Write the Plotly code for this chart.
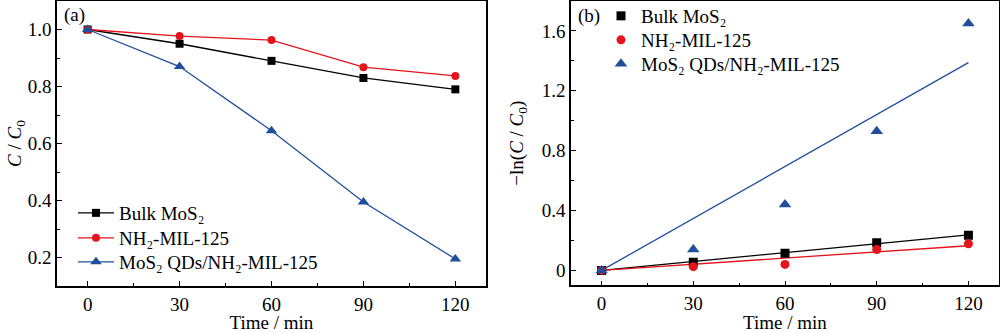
import numpy as np
import plotly.graph_objects as go

# ---- data ----
time_min = [0, 30, 60, 90, 120]
series_names = ["Bulk MoS₂", "NH₂-MIL-125", "MoS₂ QDs/NH₂-MIL-125"]
ratio_bulk = [1.0, 0.95, 0.89, 0.83, 0.79]
ratio_mil = [1.0, 0.977, 0.963, 0.868, 0.837]
ratio_qds = [1.0, 0.87, 0.645, 0.395, 0.195]
lnc_bulk = [0, 0.055, 0.115, 0.185, 0.235]
lnc_mil = [0, 0.025, 0.04, 0.14, 0.178]
lnc_qds = [0, 0.14, 0.44, 0.93, 1.65]
x_ticks = [0, 30, 60, 90, 120]
ya_ticks = [0.2, 0.4, 0.6, 0.8, 1.0]
yb_ticks = [0, 0.4, 0.8, 1.2, 1.6]
yb_ticklabels = ["0", "0.4", "0.8", "1.2", "1.6"]

colors = ["#000000", "#e3141c", "#1f4e9c"]
symbols = ["square", "circle", "triangle-up"]
msizes = [8, 8, 10]
FONT = "Liberation Serif, Times New Roman, serif"
FS = 19

# one legend per entry so the row spacing matches the original
legend_a_ids = ["legend", "legend3", "legend4"]
legend_b_ids = ["legend2", "legend5", "legend6"]
legend_a_rows = [213, 238, 262]   # pixel centres (style)
legend_b_rows = [16, 40, 64]

fig = go.Figure()

# panel (a)
for name, ys, c, s, ms, lg in zip(series_names, [ratio_bulk, ratio_mil, ratio_qds], colors, symbols, msizes, legend_a_ids):
    fig.add_trace(go.Scatter(
        x=time_min, y=ys, mode="lines+markers", name=name,
        line=dict(color=c, width=1.3),
        marker=dict(color=c, symbol=s, size=ms),
        xaxis="x", yaxis="y", legend=lg))

# panel (b): points + linear fit through origin
tx = np.array(time_min, dtype=float)
for name, ys, c in zip(series_names, [lnc_bulk, lnc_mil, lnc_qds], colors):
    yv = np.array(ys, dtype=float)
    k = float(np.sum(tx * yv) / np.sum(tx * tx))
    fig.add_trace(go.Scatter(
        x=[tx[0], tx[-1]], y=[k * tx[0], k * tx[-1]], mode="lines",
        line=dict(color=c, width=1.3), showlegend=False,
        xaxis="x2", yaxis="y2", hoverinfo="skip"))
for name, ys, c, s, ms, lg in zip(series_names, [lnc_bulk, lnc_mil, lnc_qds], colors, symbols, msizes, legend_b_ids):
    fig.add_trace(go.Scatter(
        x=time_min, y=ys, mode="markers", name=name,
        marker=dict(color=c, symbol=s, size=ms + 1),
        xaxis="x2", yaxis="y2", legend=lg))

axis_common = dict(
    showline=True, mirror=True, linecolor="black", linewidth=1.5,
    ticks="inside", ticklen=5, tickwidth=1.2, tickcolor="black",
    showgrid=False, zeroline=False,
    tickfont=dict(family=FONT, size=FS, color="black"),
    minor=dict(ticks="inside", ticklen=3, tickwidth=1.2, tickcolor="black", showgrid=False),
)

H = 333.0
legends = {}
for lg, row in zip(legend_a_ids, legend_a_rows):
    legends[lg] = dict(x=0.073, y=1 - row / H, xanchor="left", yanchor="middle",
                       bgcolor="rgba(0,0,0,0)", font=dict(family=FONT, size=FS), itemwidth=36)
for lg, row in zip(legend_b_ids, legend_b_rows):
    legends[lg] = dict(x=0.601, y=1 - row / H, xanchor="left", yanchor="middle",
                       bgcolor="rgba(0,0,0,0)", font=dict(family=FONT, size=FS), itemwidth=30)

fig.update_layout(
    width=1000, height=333,
    margin=dict(l=0, r=0, t=0, b=0, autoexpand=False),
    paper_bgcolor="white", plot_bgcolor="white",
    font=dict(family=FONT, size=FS, color="black"),
    xaxis=dict(axis_common, domain=[0.057, 0.486], range=[-10, 130],
               tickvals=x_ticks, anchor="y",
               title=dict(text="Time / min", font=dict(family=FONT, size=FS), standoff=5)),
    yaxis=dict(axis_common, domain=[0.141, 0.997], range=[0.1, 1.1],
               tickvals=ya_ticks, tickformat=".1f", anchor="x",
               title=dict(text="<i>C</i> / <i>C</i><sub>0</sub>", font=dict(family=FONT, size=FS), standoff=0)),
    xaxis2=dict(axis_common, domain=[0.571, 0.999], range=[-10, 130],
                tickvals=x_ticks, anchor="y2",
                title=dict(text="Time / min", font=dict(family=FONT, size=FS), standoff=5)),
    yaxis2=dict(axis_common, domain=[0.143, 0.997], range=[-0.1, 1.8],
                tickvals=yb_ticks, ticktext=yb_ticklabels, anchor="x2",
                title=dict(text="\u2212ln(<i>C</i> / <i>C</i><sub>0</sub>)", font=dict(family=FONT, size=FS), standoff=13)),
    annotations=[
        dict(text="(a)", x=0.062, y=0.995, xref="paper", yref="paper",
             xanchor="left", yanchor="top", showarrow=False, font=dict(family=FONT, size=FS)),
        dict(text="(b)", x=0.576, y=0.99, xref="paper", yref="paper",
             xanchor="left", yanchor="top", showarrow=False, font=dict(family=FONT, size=FS)),
    ],
    **legends,
)
fig.update_xaxes(minor=dict(tick0=15, dtick=30))
fig.update_layout(yaxis=dict(minor=dict(tick0=0.1, dtick=0.2)),
                  yaxis2=dict(minor=dict(tick0=0.2, dtick=0.4)))

fig.write_html("out.html")
